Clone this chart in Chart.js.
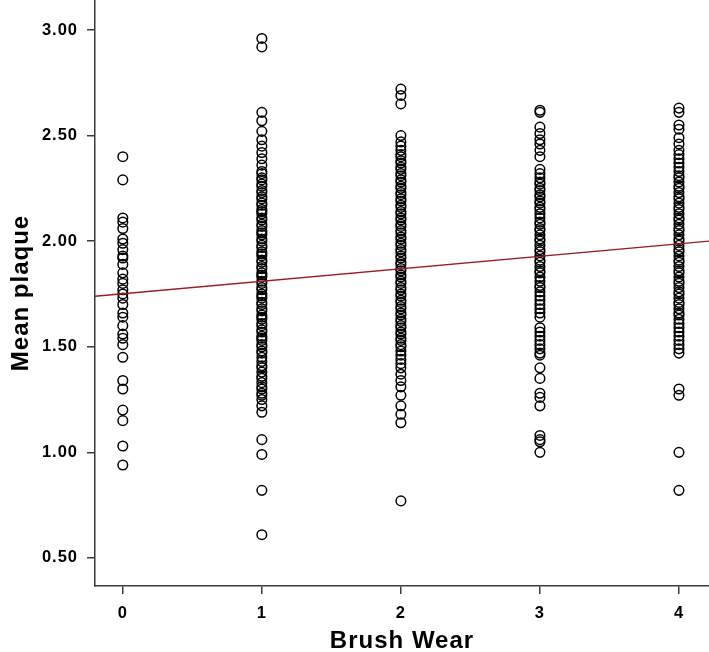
<!DOCTYPE html>
<html>
<head>
<meta charset="utf-8">
<script src="https://cdn.jsdelivr.net/npm/chart.js@4.4.1/dist/chart.umd.min.js"></script>
<style>
  html, body { margin: 0; padding: 0; background: #fff; }
  #wrap { width: 709px; height: 652px; }
</style>
</head>
<body>
<div id="wrap"><canvas id="plaqueChart" width="709" height="652"></canvas></div>
<script>
// brush wear categories and mean plaque per subject
const wearLevels = [0, 1, 2, 3, 4];
const wear0 = [2.40, 2.29, 2.11, 2.09, 2.06, 2.01, 1.99, 1.96, 1.93, 1.92, 1.89, 1.85, 1.82, 1.80, 1.77, 1.75,
    1.73, 1.70, 1.66, 1.64, 1.60, 1.56, 1.54, 1.51, 1.45, 1.34, 1.30, 1.20, 1.15, 1.03, 0.94];
const wear1 = [2.96, 2.92, 2.61, 2.57, 2.52, 2.48, 2.45, 2.42, 2.39, 2.36,
    2.33, 2.32, 2.30, 2.29, 2.27, 2.26, 2.24, 2.23, 2.21, 2.20, 2.18, 2.17, 2.15, 2.14, 2.13, 2.11, 2.10,
    2.08, 2.07, 2.05, 2.04, 2.03, 2.01, 2.00, 1.98, 1.97, 1.95, 1.94, 1.93, 1.91, 1.90, 1.88, 1.87, 1.85,
    1.84, 1.83, 1.81, 1.80, 1.78, 1.77, 1.75, 1.74, 1.73, 1.71, 1.70, 1.68, 1.67, 1.65, 1.64, 1.63, 1.61,
    1.60, 1.58, 1.57, 1.55, 1.54, 1.53, 1.51, 1.50, 1.48, 1.47, 1.45, 1.43, 1.41, 1.40, 1.38, 1.36, 1.35,
    1.33, 1.31, 1.30, 1.28, 1.27, 1.25, 1.22, 1.19, 1.06, 0.99, 0.82, 0.61];
const wear2 = [2.72, 2.69, 2.65, 2.50, 2.47, 2.45, 2.43, 2.41, 2.40, 2.38, 2.37, 2.35, 2.34, 2.32, 2.31,
    2.29, 2.28, 2.26, 2.25, 2.23, 2.22, 2.20, 2.19, 2.17, 2.16, 2.14, 2.13, 2.11, 2.10, 2.08, 2.07, 2.05,
    2.04, 2.02, 2.01, 1.99, 1.98, 1.96, 1.95, 1.93, 1.92, 1.90, 1.89, 1.87, 1.86, 1.84, 1.83, 1.81, 1.80,
    1.78, 1.77, 1.75, 1.74, 1.72, 1.71, 1.69, 1.68, 1.66, 1.65, 1.63, 1.62, 1.60, 1.59, 1.57, 1.56, 1.54,
    1.53, 1.51, 1.50, 1.48, 1.46, 1.44, 1.42, 1.40, 1.37, 1.34, 1.31, 1.27, 1.22, 1.18, 1.14, 0.77];
const wear3 = [2.62, 2.61, 2.54, 2.51, 2.48, 2.46, 2.43, 2.40, 2.34,
    2.32, 2.30, 2.28, 2.27, 2.25, 2.24, 2.22, 2.21, 2.19, 2.18, 2.16, 2.15, 2.13, 2.11, 2.09, 2.08, 2.06,
    2.05, 2.03, 2.01, 2.00, 1.98, 1.96, 1.95, 1.93, 1.91, 1.90, 1.88, 1.86, 1.85, 1.83, 1.81, 1.79, 1.78,
    1.76, 1.74, 1.72, 1.70, 1.68, 1.66, 1.64,
    1.59, 1.57, 1.55, 1.53, 1.51, 1.49, 1.47, 1.46, 1.40, 1.35, 1.28, 1.26, 1.22, 1.08, 1.06, 1.05, 1.00];
const wear4 = [2.63, 2.61, 2.55, 2.53, 2.49, 2.46, 2.43, 2.41, 2.39, 2.37, 2.35, 2.33, 2.31, 2.30, 2.28,
    2.26, 2.25, 2.23, 2.21, 2.20, 2.18, 2.16, 2.15, 2.13, 2.11, 2.10, 2.08, 2.06, 2.05, 2.03, 2.01, 2.00,
    1.98, 1.96, 1.95, 1.93, 1.91, 1.90, 1.88, 1.86, 1.85, 1.83, 1.81, 1.80, 1.78, 1.76, 1.75, 1.73, 1.71,
    1.70, 1.68, 1.66, 1.65, 1.63, 1.61, 1.59, 1.57, 1.55, 1.53, 1.51, 1.49, 1.47, 1.30, 1.27, 1.00, 0.82];
const plaqueByWear = [wear0, wear1, wear2, wear3, wear4];

// fitted line: plaque = intercept + slope * wear
const fitIntercept = 1.751;
const fitSlope = 0.059;

const yTicks = [0.5, 1.0, 1.5, 2.0, 2.5, 3.0];
const xRange = [-0.2, 4.216];
const yRange = [0.367, 3.142];

const points = [];
wearLevels.forEach(function (w, i) {
    plaqueByWear[i].forEach(function (v) { points.push({ x: w, y: v }); });
});

const axisColor = '#3a3a3a';
const fontFamily = '"Liberation Sans", Arial, sans-serif';
const tickFont = { family: fontFamily, size: 16.5, weight: 'bold' };
const xTitleFont = { family: fontFamily, size: 24, weight: 'bold', lineHeight: 0.9 };
const yTitleFont = { family: fontFamily, size: 24, weight: 'bold', lineHeight: 0.9 };

// a little letter spacing, like the original's export
const spacingPlugin = {
    id: 'spacing',
    beforeDraw: function (chart) { chart.ctx.letterSpacing = '1px'; }
};

new Chart(document.getElementById('plaqueChart').getContext('2d'), {
    type: 'scatter',
    plugins: [spacingPlugin],
    data: {
        datasets: [{
            label: 'Mean plaque',
            data: points,
            pointStyle: 'circle',
            pointRadius: 4.8,
            pointHoverRadius: 4.8,
            backgroundColor: 'rgba(0,0,0,0)',
            borderColor: '#000',
            pointBorderWidth: 1.5,
            order: 2
        }, {
            type: 'line',
            label: 'Fit',
            data: xRange.map(function (x) { return { x: x, y: fitIntercept + fitSlope * x }; }),
            borderColor: '#9b1c1f',
            borderWidth: 1.3,
            pointRadius: 0,
            fill: false,
            order: 1
        }]
    },
    options: {
        responsive: false,
        animation: false,
        devicePixelRatio: 1,
        layout: { padding: 0, autoPadding: false },
        plugins: {
            legend: { display: false },
            tooltip: { enabled: false }
        },
        scales: {
            x: {
                type: 'linear',
                min: xRange[0],
                max: xRange[1],
                afterBuildTicks: function (scale) {
                    scale.ticks = wearLevels.map(function (v) { return { value: v }; });
                },
                afterFit: function (scale) {
                    scale.height = 66;
                    scale.paddingLeft = 0;
                    scale.paddingRight = 0;
                },
                ticks: {
                    font: tickFont,
                    color: '#000',
                    padding: 10,
                    callback: function (v) { return String(v); }
                },
                grid: { display: true, drawOnChartArea: false, drawTicks: true, tickLength: 8, color: axisColor, lineWidth: 1.5 },
                border: { display: true, color: axisColor, width: 1.5 },
                title: { display: true, text: 'Brush Wear', font: xTitleFont, color: '#000', padding: { top: 2, bottom: 0 } }
            },
            y: {
                type: 'linear',
                min: yRange[0],
                max: yRange[1],
                afterBuildTicks: function (scale) {
                    scale.ticks = yTicks.map(function (v) { return { value: v }; });
                },
                afterFit: function (scale) {
                    scale.width = 95;
                    scale.paddingTop = 0;
                    scale.paddingBottom = 0;
                },
                ticks: {
                    font: tickFont,
                    color: '#000',
                    padding: 9,
                    callback: function (v) { return Number(v).toFixed(2); }
                },
                grid: { display: true, drawOnChartArea: false, drawTicks: true, tickLength: 8, color: axisColor, lineWidth: 1.5 },
                border: { display: true, color: axisColor, width: 1.5 },
                title: { display: true, text: 'Mean plaque', font: yTitleFont, color: '#000', padding: { top: 11, bottom: 0 } }
            }
        }
    }
});
</script>
</body>
</html>
